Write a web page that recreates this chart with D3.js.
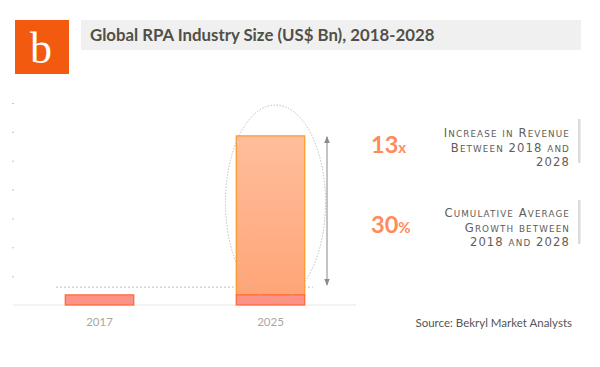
<!DOCTYPE html>
<html><head><meta charset="utf-8">
<script src="https://cdn.jsdelivr.net/npm/d3@7/dist/d3.min.js"></script>
<style>body{margin:0;background:#fff}svg{display:block}</style>
</head><body><svg id="c" width="600" height="367"></svg>
<script>
const years = ["2017", "2025"];
const baseValues = [0.35, 0.35];       // pink base segment
const growthValues = [0, 5.51];        // orange growth segment
const yTicks = [0, 1, 2, 3, 4, 5, 6, 7];
const refLevel = 0.62;                 // dashed reference line
const arrowRange = [0.69, 5.83];
const title = "Global RPA Industry Size (US$ Bn), 2018-2028";
const stat1 = "13", stat1Unit = "x";
const stat1Lines = ["Increase in Revenue", "Between 2018 and", "2028"];
const stat2 = "30", stat2Unit = "%";
const stat2Lines = ["Cumulative Average", "Growth between", "2018 and 2028"];
const source = "Source: Bekryl Market Analysts";

const svg = d3.select("#c");
const defs = svg.append("defs");
const g1 = defs.append("linearGradient").attr("id","og").attr("x1",0).attr("y1",0).attr("x2",0).attr("y2",1);
g1.append("stop").attr("offset","0%").attr("stop-color","#ffbe9c");
g1.append("stop").attr("offset","100%").attr("stop-color","#ffa577");
defs.append("marker").attr("id","ah").attr("viewBox","0 0 10 10").attr("refX",9).attr("refY",5)
  .attr("markerWidth",7).attr("markerHeight",7).attr("orient","auto-start-reverse")
  .append("path").attr("d","M0,1L10,5L0,9Z").attr("fill","#8a8a8a");

// logo
svg.append("rect").attr("x",15).attr("y",20).attr("width",54).attr("height",54).attr("fill","#f25a10");
svg.append("text").attr("x",41).attr("y",63).attr("text-anchor","middle")
  .attr("font-family","Liberation Serif, serif").attr("font-size",44).attr("fill","#fff").text("b");

// title
svg.append("rect").attr("x",81).attr("y",20).attr("width",500).attr("height",30).attr("fill","#f0f0f0");
svg.append("text").attr("x",90).attr("y",41).attr("font-family","Lato, Open Sans, sans-serif")
  .attr("font-weight","bold").attr("font-size",16.8).attr("fill","#505048").text(title);

const x = d3.scaleBand().domain(years).range([14, 356]).paddingInner(0.6).paddingOuter(0.3);
const y = d3.scaleLinear().domain([0, 7]).range([305, 103]);

// y axis ticks
const ya = svg.append("g").attr("transform","translate(14,0)")
  .call(d3.axisLeft(y).tickValues(yTicks.slice(1)).tickSize(2).tickFormat(""));
ya.select(".domain").remove();
ya.selectAll(".tick line").attr("stroke","#c8c8c8");

// baseline
svg.append("line").attr("x1",13).attr("x2",356).attr("y1",y(0)).attr("y2",y(0)).attr("stroke","#e6e6e6").attr("stroke-width",1);

// dashed reference
svg.append("line").attr("x1",56).attr("x2",313).attr("y1",y(refLevel)).attr("y2",y(refLevel))
  .attr("stroke","#b0b0b0").attr("stroke-dasharray","2,2").attr("stroke-width",0.8);

// bars
years.forEach((yr, i) => {
  if (growthValues[i] > 0) {
    svg.append("rect").attr("x",x(yr)).attr("width",x.bandwidth())
      .attr("y",y(baseValues[i]+growthValues[i])).attr("height",y(baseValues[i])-y(baseValues[i]+growthValues[i]))
      .attr("fill","url(#og)").attr("stroke","#ff9a2e").attr("stroke-width",1.3);
  }
  svg.append("rect").attr("x",x(yr)).attr("width",x.bandwidth())
    .attr("y",y(baseValues[i])).attr("height",y(0)-y(baseValues[i]))
    .attr("fill","#ff9286").attr("stroke","#ff6a3c").attr("stroke-width",1.3);
});

// x labels
svg.append("g").selectAll("text").data(years).join("text")
  .attr("x",d=>x(d)+x.bandwidth()/2).attr("y",326).attr("text-anchor","middle")
  .attr("font-family","Lato, Open Sans, sans-serif").attr("font-size",11.5).attr("fill","#a8a8a0").text(d=>d);

// ellipse
const cx = x("2025")+x.bandwidth()/2+5;
svg.append("ellipse").attr("cx",cx).attr("cy",202.5).attr("rx",50).attr("ry",97.5)
  .attr("fill","none").attr("stroke","#b8b8b8").attr("stroke-width",0.9).attr("stroke-dasharray","1.5,1.5");

// arrow
svg.append("line").attr("x1",327).attr("x2",327).attr("y1",y(arrowRange[0])).attr("y2",y(arrowRange[1]))
  .attr("stroke","#8a8a8a").attr("stroke-width",1).attr("marker-start","url(#ah)").attr("marker-end","url(#ah)");

// manual small caps
function smallCaps(sel, str) {
  const runs = [];
  for (const ch of str) {
    const big = !(ch >= 'a' && ch <= 'z');
    if (runs.length && runs[runs.length-1].big === big) runs[runs.length-1].t += ch;
    else runs.push({big, t: ch});
  }
  runs.forEach(r => sel.append("tspan").attr("font-size", r.big ? 11.6 : 8.8).text(r.t.toUpperCase()));
}

// stats
function stat(big, unit, lines, by, ly0, barY0, barY1) {
  const t = svg.append("text").attr("x",371).attr("y",by).attr("font-family","Lato, Open Sans, sans-serif")
    .attr("font-weight","bold").attr("fill","#ff8a5c");
  t.append("tspan").attr("font-size",23.5).text(big);
  t.append("tspan").attr("font-size",15).text(unit);
  lines.forEach((ln, i) => {
    const tx = svg.append("text").attr("x",570).attr("y",ly0+i*14.5).attr("text-anchor","end")
      .attr("font-family","DejaVu Sans, sans-serif").attr("letter-spacing",1.1).attr("fill","#5e5e5a");
    smallCaps(tx, ln);
  });
  svg.append("rect").attr("x",578).attr("y",barY0).attr("width",2.5).attr("height",barY1-barY0).attr("fill","#dcdcdc");
}
stat(stat1, stat1Unit, stat1Lines, 153, 137, 119, 163);
stat(stat2, stat2Unit, stat2Lines, 233, 217, 200, 244);

// source
svg.append("text").attr("x",572).attr("y",327).attr("text-anchor","end")
  .attr("font-family","Lato, Open Sans, sans-serif").attr("font-size",11.5).attr("fill","#555").text(source);
</script></body></html>
